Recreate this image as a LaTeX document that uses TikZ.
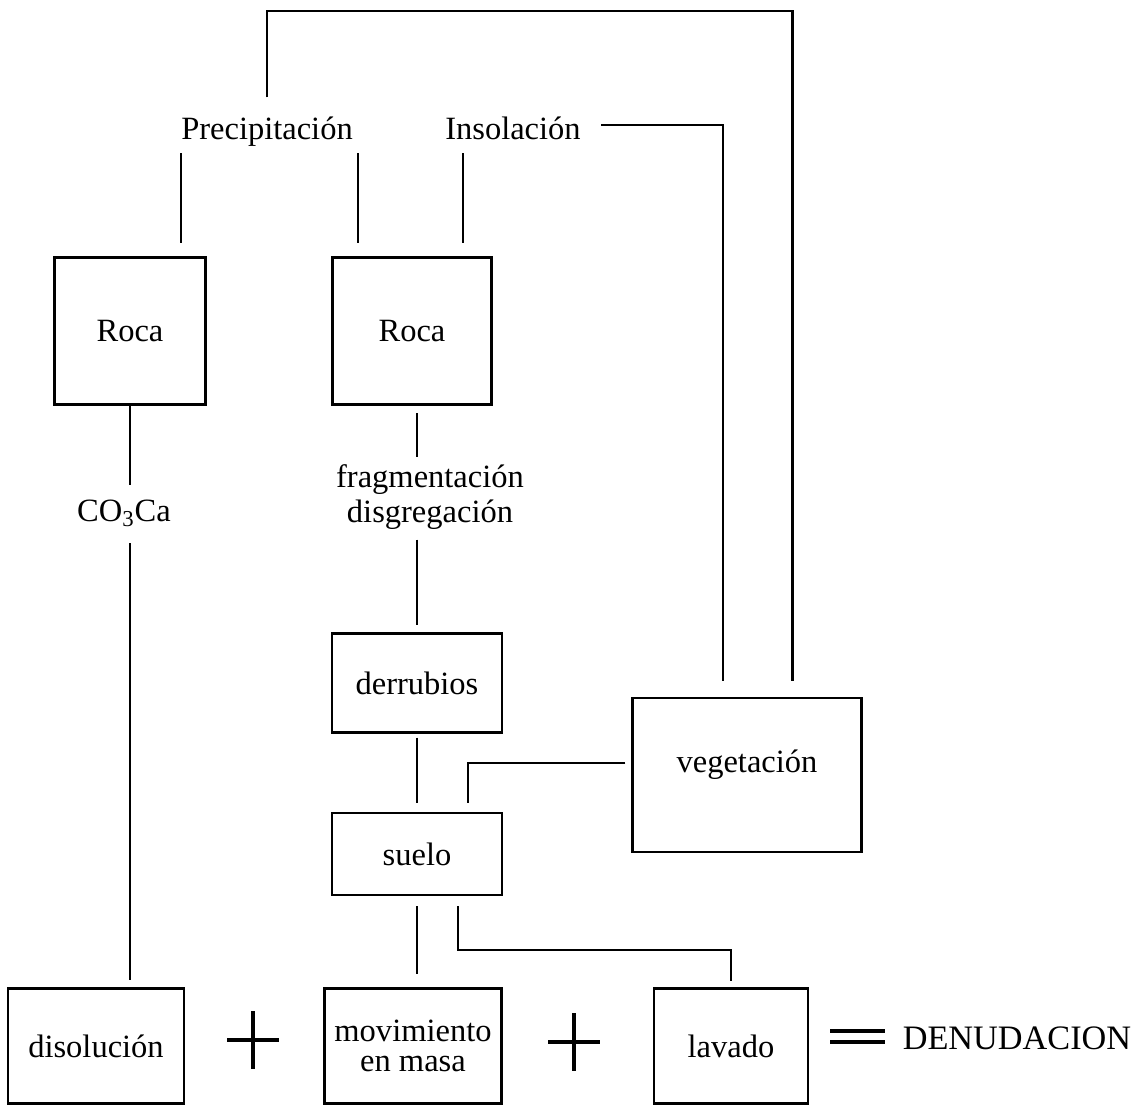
\documentclass[tikz,border=0pt]{standalone}
\usepackage{fontspec}
\setmainfont{Liberation Serif}
\usetikzlibrary{calc}

\tikzset{
    caja/.style={draw, line width=1.2pt, inner sep=0pt, align=center, font=\fontsize{18.5}{17}\selectfont},
    rotulo/.style={inner sep=0pt, text height=0.7em, text depth=0.25em, font=\fontsize{18.5}{20}\selectfont},
    rotulodos/.style={inner sep=0pt, align=center, font=\fontsize{18.5}{19.8}\selectfont},
    enlace/.style={-, line width=1.3pt},
    signo/.style={line width=1.8pt}
}

\begin{document}
\begin{tikzpicture}[x=0.02cm, y=-0.02cm]
        \useasboundingbox (0,0) rectangle (1139,1107);
        \node[rotulo](prec)  at (267,136) {Precipitación};
        \node[rotulo](insol) at (513,136) {Insolación};
        \node[rotulo](co3)   at (124,518) {CO\textsubscript{3}Ca};
        \node[rotulodos](frag) at (430,497) {fragmentación\\disgregación};
        \node[caja, minimum width=3.02cm, minimum height=2.94cm](roca1) at (130,331)  {Roca};
        \node[caja, minimum width=3.18cm, minimum height=2.94cm](roca2) at (412,331)  {Roca};
        \node[caja, minimum width=3.4cm,  minimum height=1.98cm](derr)  at (417,683)  {derrubios};
        \node[caja, minimum width=3.4cm,  minimum height=1.64cm](suelo) at (417,854)  {suelo};
        \node[caja, minimum width=4.58cm, minimum height=3.08cm, text height=0.7em, text depth=0.95em](vege) at (747,775) {vegetación};
        \node[caja, minimum width=3.52cm, minimum height=2.3cm](diso)  at (96,1046)   {disolución};
        \node[caja, minimum width=3.54cm, minimum height=2.3cm](movi)  at (413,1046)  {movimiento\\en masa};
        \node[caja, minimum width=3.08cm, minimum height=2.3cm](lava)  at (731,1046)  {lavado};
        \node[rotulo, font=\fontsize{19.5}{22}\selectfont](denu) at (1017,1046) {DENUDACION};
        \path[enlace]
            (prec.south west)
                edge [shorten <=0.17cm, shorten >=0.26cm] (prec.south west |- roca1.north)
            ($(prec.south east)+(5,0)$)
                edge [shorten <=0.17cm, shorten >=0.26cm] ($(prec.south east |- roca2.north)+(5,0)$)
            ($(insol.south west)+(18,0)$)
                edge [shorten <=0.17cm, shorten >=0.26cm] ($(insol.south west |- roca2.north)+(18,0)$)
            (roca1.south)
                edge [shorten >=0.49cm] (roca1.south |- co3.north)
            (roca1.south |- co3.south)
                edge [shorten <=0.33cm, shorten >=0.14cm] (roca1.south |- diso.north)
            (derr.north |- roca2.south)
                edge [shorten <=0.15cm, shorten >=0.14cm] (derr.north |- frag.north)
            (derr.north |- frag.south)
                edge [shorten <=0.2cm, shorten >=0.14cm] (derr.north)
            (derr.south)
                edge [shorten <=0.08cm, shorten >=0.18cm] (suelo.north)
            (suelo.south)
                edge [shorten <=0.2cm, shorten >=0.27cm] (suelo.south |- movi.north)
            ;
        \draw[enlace, shorten <=0.6cm, shorten >=0.32cm] (prec.north) -- ++(0,-116) -| ($(vege.north east)+(-70,0)$);
        \draw[enlace, shorten <=0.4cm, shorten >=0.32cm] ($(insol.east)+(0,-11)$) -| ($(vege.north)+(-24,0)$);
        \draw[enlace, shorten <=0.12cm, shorten >=0.18cm] ($(vege.west)+(0,-12)$) -| ($(suelo.north east)+(-35,0)$);
        \draw[enlace, shorten <=0.2cm, shorten >=0.13cm] ($(suelo.south east)+(-45,0)$) -- ++(0,54) -| (lava.north);
        \foreach \sx/\sy in {253/1040, 574/1042}
            \draw[signo] (\sx,\sy-29) -- (\sx,\sy+29) (\sx-26,\sy) -- (\sx+26,\sy);
        \draw[signo] (830,1031) -- (885,1031) (830,1042) -- (885,1042);
    \end{tikzpicture}
\end{document}
